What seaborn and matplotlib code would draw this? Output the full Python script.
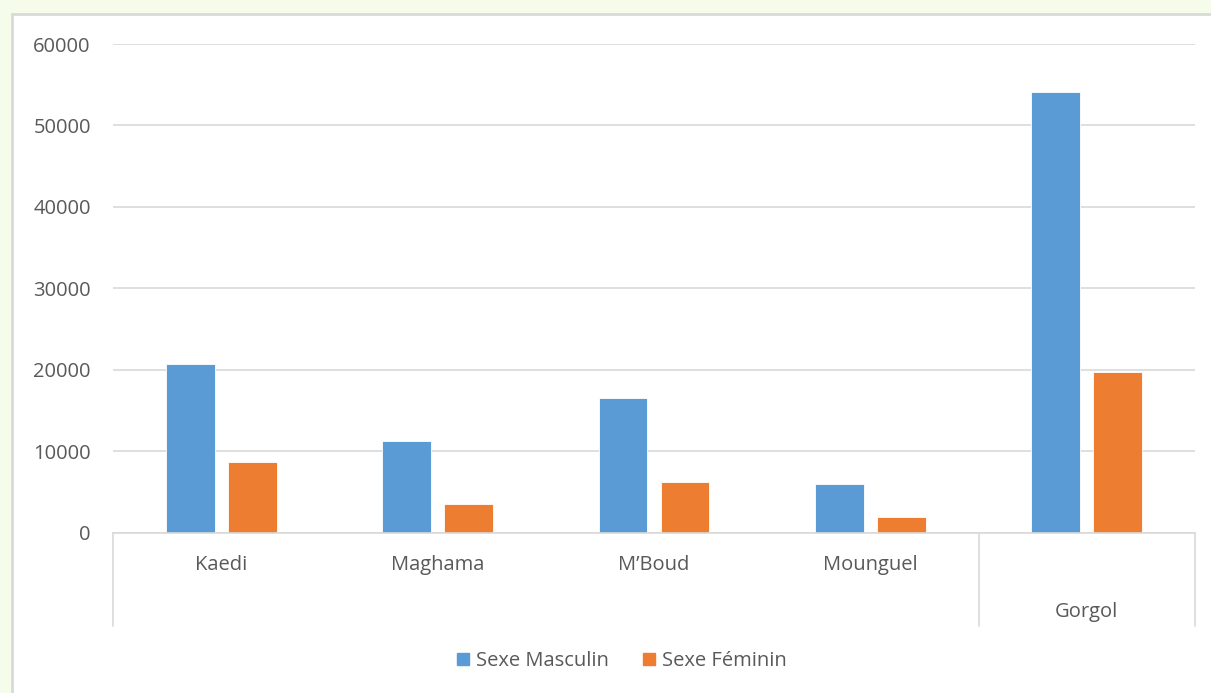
import pandas as pd
import matplotlib.pyplot as plt
import seaborn as sns
from matplotlib.patches import Rectangle
from matplotlib.lines import Line2D

communes = ['Kaedi', 'Maghama', 'M\u2019Boud', 'Mounguel', 'Gorgol']
masculin = [20650, 11200, 16550, 5900, 54150]
feminin = [8650, 3550, 6250, 1850, 19700]
series = ['Sexe Masculin', 'Sexe F\u00e9minin']
colors = ['#5b9bd5', '#ed7d31']
yticks = [0, 10000, 20000, 30000, 40000, 50000, 60000]

df = pd.DataFrame({
    'commune': communes * 2,
    'sexe': [series[0]] * len(communes) + [series[1]] * len(communes),
    'pop': masculin + feminin,
})

sns.set_style('white')
plt.rcParams['font.family'] = ['Open Sans', 'DejaVu Sans']
txt = '#595959'
grid = '#d9d9d9'

fig = plt.figure(figsize=(12.11, 6.93), dpi=100)
fig.patch.set_facecolor('#f5fcea')
# white chart area with light border
fig.patches.append(Rectangle((12 / 1211, -0.05), 1.1, 1 - 14 / 693 + 0.05,
                             transform=fig.transFigure, facecolor='white',
                             edgecolor=grid, linewidth=2, zorder=-5))

ax = fig.add_axes([113 / 1211, 1 - 532.5 / 693, (1195 - 113) / 1211, (532.5 - 44) / 693])
ax.set_facecolor('none')

sns.barplot(data=df, x='commune', y='pop', hue='sexe', order=communes,
            hue_order=series, palette=colors, width=0.573, gap=0.21,
            saturation=1, edgecolor='white', linewidth=0.6, ax=ax, legend=False)

ax.set_xlim(-0.5, len(communes) - 0.5)
ax.set_ylim(0, 60000)
ax.set_yticks(yticks)
ax.set_yticklabels([str(v) for v in yticks], color=txt, fontsize=14.5)
ax.tick_params(axis='y', length=0, pad=16)
ax.yaxis.grid(True, color=grid, linewidth=1.2)
ax.set_axisbelow(True)
ax.set_xticks([])
ax.set_xlabel(None)
ax.set_ylabel(None)
for s in ['left', 'right', 'top']:
    ax.spines[s].set_visible(False)
ax.spines['bottom'].set_color(grid)
ax.spines['bottom'].set_linewidth(1.2)

# multi-level category axis
for i, name in enumerate(communes[:-1]):
    ax.text(i, -0.066, name, transform=ax.get_xaxis_transform(), ha='center',
            va='center', color=txt, fontsize=14.5)
ax.text(len(communes) - 1, -0.162, communes[-1], transform=ax.get_xaxis_transform(),
        ha='center', va='center', color=txt, fontsize=14.5)
for xv in [-0.5, len(communes) - 1.5, len(communes) - 0.5]:
    ax.plot([xv, xv], [0, -0.191], transform=ax.get_xaxis_transform(),
            color=grid, linewidth=1.2, clip_on=False)

handles = [Line2D([], [], marker='s', linestyle='none', markersize=8.5,
                  markerfacecolor=c, markeredgecolor=c) for c in colors]
fig.legend(handles, series, loc='center', bbox_to_anchor=(621 / 1211, 1 - 661 / 693),
           ncol=2, frameon=False, fontsize=14.5, labelcolor=txt,
           handletextpad=0.25, columnspacing=1.6, handlelength=0.8)

fig.savefig('out.png', dpi=100, facecolor=fig.get_facecolor())
